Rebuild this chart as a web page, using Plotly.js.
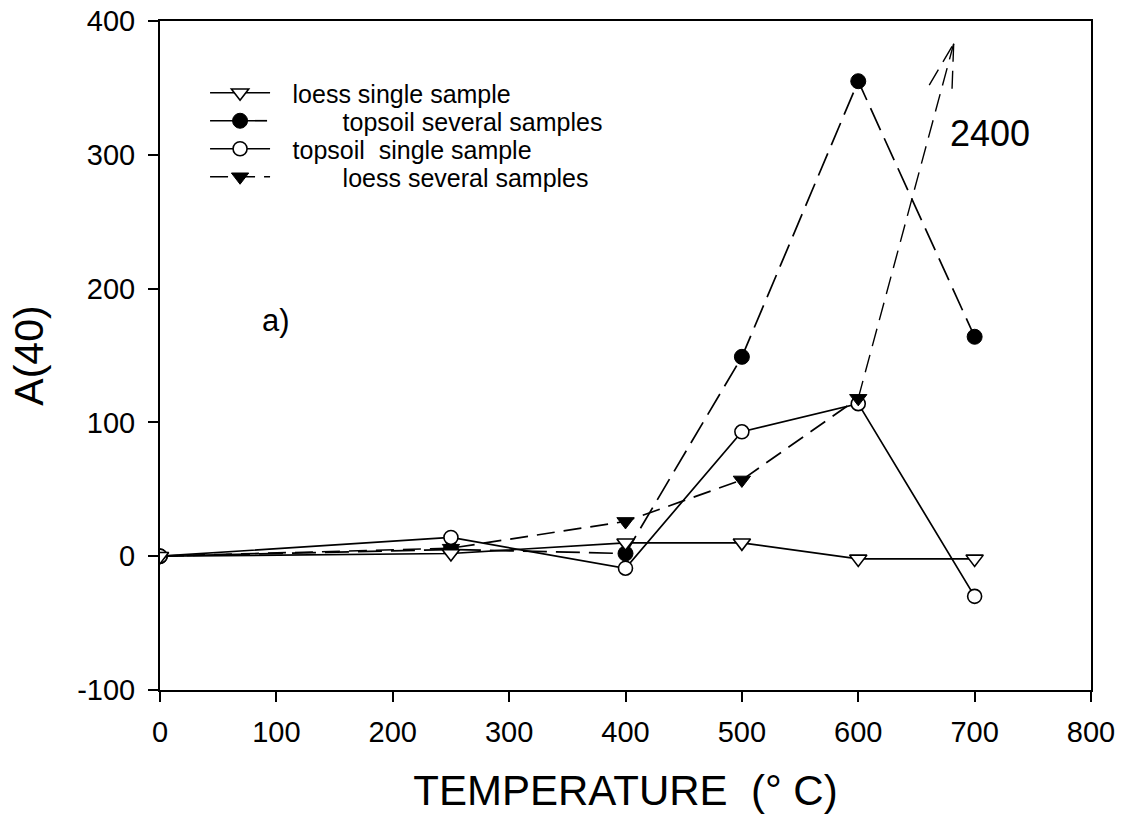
<!DOCTYPE html>
<html>
<head>
<meta charset="utf-8">
<script src="https://cdn.plot.ly/plotly-3.0.1.min.js"></script>
<style>
  html, body { margin: 0; padding: 0; background: #fff; }
  #chart { width: 1121px; height: 821px; }
</style>
</head>
<body>
<div id="chart"></div>
<script>
// Heating temperatures (°C)
const temperature = [0, 250, 400, 500, 600, 700];

// A(40) for each sample set
const loessSingle = [0, 2, 10, 10, -2, -2];
const topsoilSeveral = [0, 5, 2, 149, 355, 164];
const topsoilSingle = [0, 14, -9, 93, 114, -30];
const loessSeveral = [0, 6, 26, 57, 118, 2400];

const seriesNames = [
  'loess single sample',
  'topsoil several samples',
  'topsoil\u00A0 single sample',
  'loess several samples'
];

const xTicks = [0, 100, 200, 300, 400, 500, 600, 700, 800];
const yTicks = [-100, 0, 100, 200, 300, 400];

const FONT = 'Arial, "Liberation Sans", "DejaVu Sans", sans-serif';
const Y_MIN = -100, Y_MAX = 400;

// legend label indents (non-collapsing spaces keep the offset)
const indentSolid = '\u2002\u2009';
const indentDashed = '\u00A0'.repeat(9) + '\u2009';

// loess several samples: the 700 °C value lies far above the axis,
// so it is drawn on scale only up to 600 °C and flagged with an arrow.
const onScale = loessSeveral.map(v => (v > Y_MAX ? null : v));
const lastOn = onScale.reduce((k, v, i) => (v !== null ? i : k), 0);
const offIdx = loessSeveral.findIndex(v => v > Y_MAX);

// geometry of the off-scale arrow (data units)
const arrowTip = { x: 682, y: 383 };
const arrowWingL = { x: 661, y: 352 };
const arrowWingR = { x: 680.5, y: 347 };

const lineW = 1.7;

const traces = [
  {
    x: temperature, y: topsoilSeveral, name: indentDashed + seriesNames[1],
    mode: 'lines+markers', legend: 'legend2',
    line: { color: '#000', width: lineW, dash: '24px,9px' },
    marker: { symbol: 'circle', size: 15, color: '#000', line: { color: '#000', width: 1 } }
  },
  {
    x: temperature, y: topsoilSingle, name: indentSolid + seriesNames[2],
    mode: 'lines+markers', legend: 'legend3',
    line: { color: '#000', width: lineW },
    marker: { symbol: 'circle', size: 14, color: '#fff', line: { color: '#000', width: 1.6 } }
  },
  {
    x: temperature.slice(0, lastOn + 1), y: onScale.slice(0, lastOn + 1),
    name: indentDashed + seriesNames[3],
    mode: 'lines+markers', legend: 'legend4',
    line: { color: '#000', width: lineW, dash: '18px,9px' },
    marker: { symbol: 'triangle-down', size: 15, color: '#000', line: { color: '#000', width: 1 } }
  },
  {
    // off-scale arrow towards the 700 °C value
    x: [temperature[lastOn], arrowTip.x, null, arrowWingL.x, arrowTip.x, null, arrowTip.x, arrowWingR.x],
    y: [loessSeveral[lastOn], arrowTip.y, null, arrowWingL.y, arrowTip.y, null, arrowTip.y, arrowWingR.y],
    mode: 'lines', showlegend: false, hoverinfo: 'skip',
    line: { color: '#000', width: 1.4, dash: '18px,9px' }
  },
  {
    x: temperature, y: loessSingle, name: indentSolid + seriesNames[0],
    mode: 'lines+markers', legend: 'legend',
    line: { color: '#000', width: lineW },
    marker: { symbol: 'triangle-down', size: 15, color: '#fff', line: { color: '#000', width: 1.6 } }
  }
];

function legendAt(yPaper) {
  return {
    x: 0.0484, y: yPaper, xanchor: 'left', yanchor: 'middle',
    bgcolor: 'rgba(0,0,0,0)', borderwidth: 0,
    font: { family: FONT, size: 25, color: '#000' },
    itemwidth: 60, itemsizing: 'trace', traceorder: 'normal'
  };
}
const rowPx = [93, 121, 149, 177];
const plotTop = 21, plotBottom = 690;
const toPaperY = py => (plotBottom - py) / (plotBottom - plotTop);

const layout = {
  width: 1121, height: 821,
  margin: { l: 160, r: 30, t: 21, b: 131 },
  paper_bgcolor: '#fff', plot_bgcolor: '#fff',
  font: { family: FONT, color: '#000', size: 25 },
  xaxis: {
    range: [0, 800], tickvals: xTicks, ticktext: xTicks.map(String),
    showgrid: false, zeroline: false,
    showline: true, linecolor: '#000', linewidth: 2, mirror: true,
    ticks: 'outside', ticklen: 10, tickwidth: 2, tickcolor: '#000',
    ticklabelstandoff: 5,
    tickfont: { family: FONT, size: 29 },
    title: { text: 'TEMPERATURE  (° C)', font: { family: FONT, size: 42 }, standoff: 29 }
  },
  yaxis: {
    range: [Y_MIN, Y_MAX], tickvals: yTicks, ticktext: yTicks.map(String),
    showgrid: false, zeroline: false,
    showline: true, linecolor: '#000', linewidth: 2, mirror: true,
    ticks: 'outside', ticklen: 10, tickwidth: 2, tickcolor: '#000',
    ticklabelstandoff: 7,
    tickfont: { family: FONT, size: 29 },
    title: { text: 'A(40)', font: { family: FONT, size: 41 }, standoff: 21 }
  },
  legend: legendAt(toPaperY(rowPx[0])),
  legend2: legendAt(toPaperY(rowPx[1])),
  legend3: legendAt(toPaperY(rowPx[2])),
  legend4: legendAt(toPaperY(rowPx[3])),
  annotations: [
    {
      x: temperature[offIdx] + 13, y: 316, xref: 'x', yref: 'y',
      text: String(loessSeveral[offIdx]), showarrow: false,
      font: { family: FONT, size: 36, color: '#000' }
    },
    {
      x: 100, y: 176, xref: 'x', yref: 'y', text: 'a)', showarrow: false,
      font: { family: FONT, size: 31, color: '#000' }
    }
  ],
  showlegend: true
};

Plotly.newPlot('chart', traces, layout, { displayModeBar: false, staticPlot: true });
</script>
</body>
</html>
